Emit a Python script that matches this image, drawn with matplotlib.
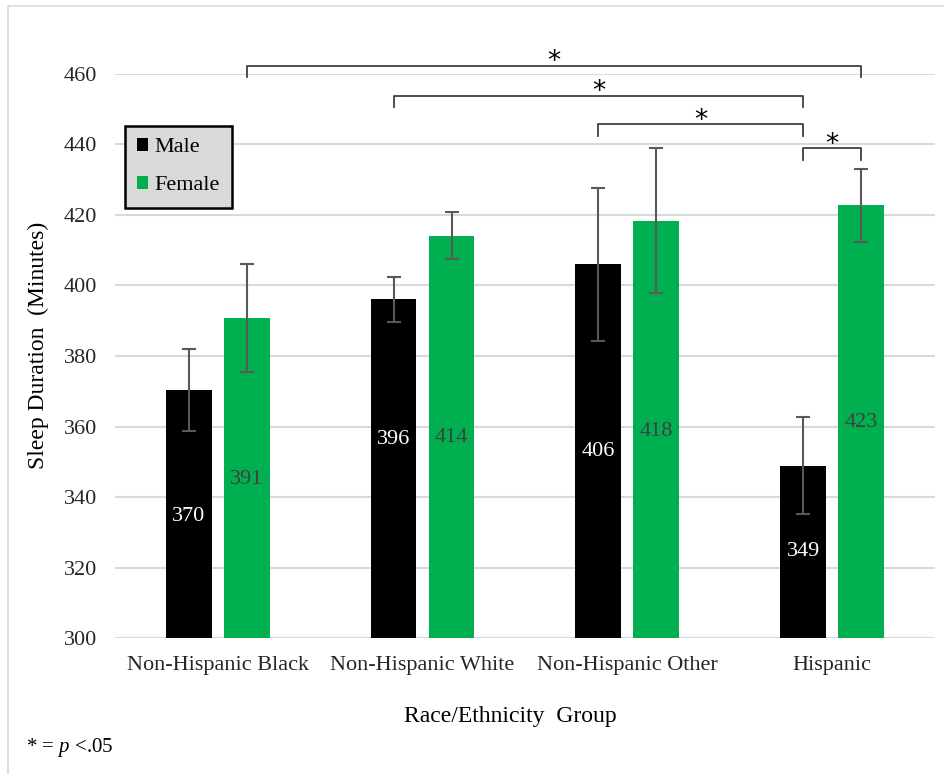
import matplotlib.pyplot as plt
import numpy as np
from matplotlib.patches import Rectangle

plt.rcParams['font.family'] = ['Liberation Serif', 'DejaVu Serif']
plt.rcParams['mathtext.fontset'] = 'custom'
plt.rcParams['mathtext.it'] = 'Liberation Serif:italic'
plt.rcParams['mathtext.rm'] = 'Liberation Serif'

groups = ['Non-Hispanic Black', 'Non-Hispanic White', 'Non-Hispanic Other', 'Hispanic']
male = [370.4, 396.1, 406.0, 348.9]
female = [390.8, 414.1, 418.4, 422.7]
male_err = [11.6, 6.4, 21.8, 13.7]
female_err = [15.4, 6.7, 20.5, 10.3]
male_labels = ['370', '396', '406', '349']
female_labels = ['391', '414', '418', '423']
# where the value labels sit inside the bars (as in the original)
male_label_y = [334.6, 356.2, 352.8, 324.4]
female_label_y = [345.1, 357.0, 358.7, 361.0]

# significance brackets: (group, sex) pairs, bracket height
brackets = [((0, 'f'), (3, 'f'), 462.3),
            ((1, 'm'), (3, 'm'), 453.8),
            ((2, 'm'), (3, 'm'), 445.7),
            ((3, 'm'), (3, 'f'), 438.9)]

black = '#000000'
green = '#00B050'
grid_c = '#D9D9D9'

fig = plt.figure(figsize=(9.45, 7.74), dpi=100)
fig.patches.append(Rectangle((8 / 945, -0.05), 1.1, 1.05 - 6 / 774,
                             transform=fig.transFigure, fill=False,
                             edgecolor='#D9D9D9', linewidth=1.2))
ax = fig.add_axes([0.122, 0.1757, 0.867, 0.7287])

x = np.arange(len(groups))
w = 0.224
off = 0.1415
ax.bar(x - off, male, w, color=black, label='Male', zorder=2)
ax.bar(x + off, female, w, color=green, label='Female', zorder=2)
ax.errorbar(x - off, male, yerr=male_err, fmt='none', ecolor='#595959',
            elinewidth=1.5, capsize=5, capthick=1.5, zorder=3)
ax.errorbar(x + off, female, yerr=female_err, fmt='none', ecolor='#595959',
            elinewidth=1.5, capsize=5, capthick=1.5, zorder=3)

for i in range(len(groups)):
    ax.text(x[i] - off, male_label_y[i], male_labels[i], ha='center', va='center',
            color='white', fontsize=16, zorder=4)
    ax.text(x[i] + off, female_label_y[i], female_labels[i], ha='center', va='center',
            color='#404040', fontsize=16, zorder=4)

ax.set_xlim(-0.5, 3.5)
ax.set_ylim(300, 460)
ax.set_yticks(np.arange(300, 461, 20))
ax.yaxis.grid(True, color=grid_c, linewidth=1.5, zorder=0)
ax.set_axisbelow(True)
for s in ax.spines.values():
    s.set_visible(False)
ax.axhline(300, color=grid_c, linewidth=1.5, zorder=1)
ax.set_xticks(x)
ax.set_xticklabels(groups)
ax.tick_params(axis='both', length=0, labelsize=16, colors='#262626')
ax.tick_params(axis='y', pad=13)
ax.tick_params(axis='x', pad=13)

def xpos(g, s):
    return g - off if s == 'm' else g + off

for a, b, h in brackets:
    x1, x2 = xpos(*a), xpos(*b)
    ax.plot([x1, x1, x2, x2], [h - 3.2, h, h, h - 3.2], color='#404040',
            linewidth=1.3, clip_on=False, zorder=5)
    ax.text((x1 + x2) / 2, h - 2.6, '*', ha='center', va='bottom',
            fontsize=19, color='black', clip_on=False, family='DejaVu Sans')

leg = ax.legend(loc='upper left', bbox_to_anchor=(0.0116, 0.908), borderaxespad=0,
                fontsize=16, frameon=True, fancybox=False, facecolor='#D9D9D9',
                edgecolor='black', framealpha=1, handlelength=0.5, handleheight=0.5,
                handletextpad=0.3, labelspacing=0.85, borderpad=0.55)
leg.get_frame().set_linewidth(1.8)

fig.text(0.041, 0.554, 'Sleep Duration  (Minutes)', rotation=90, ha='center',
         va='center', fontsize=17, color='black')
fig.text(0.54, 0.074, 'Race/Ethnicity  Group', ha='center', va='center',
         fontsize=17, color='black')
fig.text(0.027, 0.034, '* = $\\mathit{p}$ <.05', ha='left', va='center',
         fontsize=15, color='black')

fig.savefig('out.png', dpi=100)
